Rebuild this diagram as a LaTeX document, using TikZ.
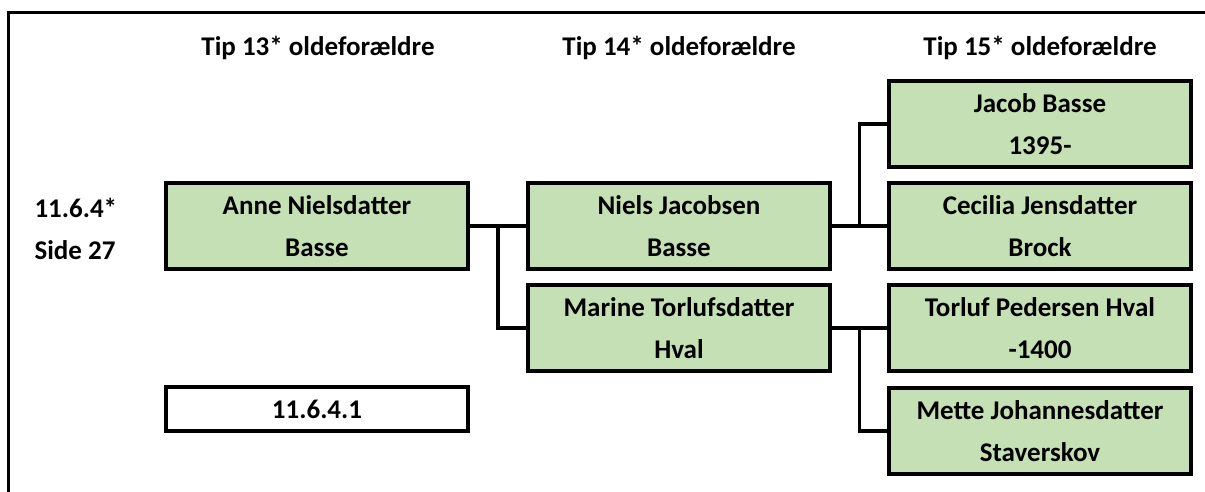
\documentclass[tikz,border=0pt]{standalone}
\usepackage{fontspec}
\setmainfont{Carlito}
\usetikzlibrary{positioning, calc}
\definecolor{boxgreen}{RGB}{197,224,180}

\begin{document}
\begin{tikzpicture}[x=1pt, y=-1pt, font=\bfseries\fontsize{27}{42}\selectfont,
  person/.style={draw=black, line width=3.5pt, fill=boxgreen, minimum width=302pt, minimum height=86pt, align=center, inner sep=0pt},
  numbox/.style={draw=black, line width=3.5pt, fill=white, minimum width=302pt, minimum height=44pt, inner sep=0pt},
  link/.style={line width=3.5pt}]
  \useasboundingbox (0,0) rectangle (1205,491);
  % ramme om det hele
  \draw[line width=3pt] (8,495) -- (8,12) -- (1210,12);
  % overskrifter
  \node (h13) at (318,48) {Tip 13* oldeforældre};
  \node (h14) at (679,48) {Tip 14* oldeforældre};
  \node (h15) at (1040,48) {Tip 15* oldeforældre};
  \node[anchor=west] (ref) at (31,208) {11.6.4*};
  \node[anchor=west] (side) at (31,250) {Side 27};
  % personer
  \node[person] (anne) at (317,226) {Anne Nielsdatter\\Basse};
  \node[person] (niels) at (679,226) {Niels Jacobsen\\Basse};
  \node[person] (marine) at (679,328) {Marine Torlufsdatter\\Hval};
  \node[person] (jacob) at (1040,124) {Jacob Basse\\1395-};
  \node[person] (cecilia) at (1040,226) {Cecilia Jensdatter\\Brock};
  \node[person] (torluf) at (1040,328) {Torluf Pedersen Hval\\-1400};
  \node[person] (mette) at (1040,431) {Mette Johannesdatter\\Staverskov};
  \node[numbox] (num) at (317,409) {11.6.4.1};
  % forbindelser
  \coordinate (f1) at ($(anne.east)!0.5!(niels.west)$);
  \coordinate (f2) at ($(niels.east)!0.5!(cecilia.west)$);
  \coordinate (f3) at ($(marine.east)!0.5!(torluf.west)$);
  \draw[link] (anne.east) -- (niels.west);
  \draw[link] (f1) |- (marine.west);
  \draw[link] (niels.east) -- (cecilia.west);
  \draw[link] (f2) |- (jacob.west);
  \draw[link] (marine.east) -- (torluf.west);
  \draw[link] (f3) |- (mette.west);
\end{tikzpicture}
\end{document}
